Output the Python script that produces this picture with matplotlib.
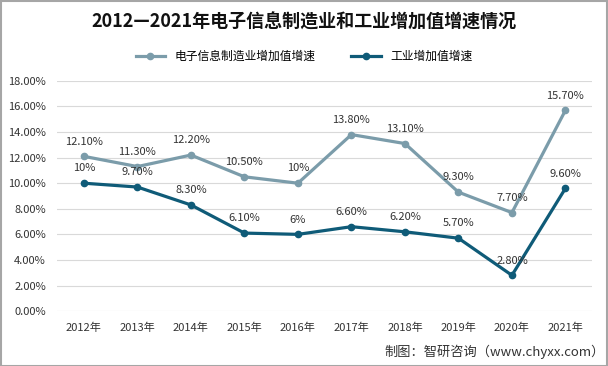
import numpy as np
import matplotlib
matplotlib.use("Agg")
import matplotlib.pyplot as plt
from matplotlib.patches import Rectangle

plt.rcParams['font.family'] = ['Noto Sans CJK SC', 'DejaVu Sans']

years = ["2012年", "2013年", "2014年", "2015年", "2016年",
         "2017年", "2018年", "2019年", "2020年", "2021年"]
elec = [12.1, 11.3, 12.2, 10.5, 10.0, 13.8, 13.1, 9.3, 7.7, 15.7]
elec_labels = ["12.10%", "11.30%", "12.20%", "10.50%", "10%",
               "13.80%", "13.10%", "9.30%", "7.70%", "15.70%"]
ind = [10.0, 9.7, 8.3, 6.1, 6.0, 6.6, 6.2, 5.7, 2.8, 9.6]
ind_labels = ["10%", "9.70%", "8.30%", "6.10%", "6%",
              "6.60%", "6.20%", "5.70%", "2.80%", "9.60%"]
yticks = np.arange(0, 19, 2)

c_light = "#7B9CAA"
c_dark = "#0F5B78"

fig = plt.figure(figsize=(6.08, 3.66), dpi=100)
ax = fig.add_axes([0.094, 0.150, 0.880, 0.629])

x = np.arange(len(years))
ax.plot(x, elec, color=c_light, lw=2.3, marker="o", ms=4.5, label="电子信息制造业增加值增速")
ax.plot(x, ind, color=c_dark, lw=2.3, marker="o", ms=4.5, label="工业增加值增速")

for xi, v, t in zip(x, elec, elec_labels):
    ax.annotate(t, (xi, v), xytext=(0, 7), textcoords="offset points",
                ha="center", va="bottom", fontsize=8, color="#333333")
for xi, v, t in zip(x, ind, ind_labels):
    ax.annotate(t, (xi, v), xytext=(0, 7), textcoords="offset points",
                ha="center", va="bottom", fontsize=8, color="#333333")

ax.set_xlim(-0.5, len(years) - 0.5)
ax.set_ylim(0, 18)
ax.set_yticks(yticks)
ax.set_yticklabels([f"{v:.2f}%" for v in yticks], fontsize=8, color="#333333")
ax.set_xticks(x)
ax.set_xticklabels(years, fontsize=8, color="#333333")
ax.tick_params(length=0, pad=8)
ax.grid(axis="y", color="#D9D9D9", lw=0.8)
ax.set_axisbelow(True)
for s in ax.spines.values():
    s.set_visible(False)

fig.text(0.5, 0.94, "2012—2021年电子信息制造业和工业增加值增速情况",
         ha="center", va="center", fontsize=13, fontweight="bold", color="#111111")
fig.legend(loc="center", bbox_to_anchor=(0.5, 0.845), ncol=2, frameon=False,
           fontsize=8.5, handlelength=2.5, columnspacing=3)
fig.text(0.995, 0.04, "制图：智研咨询（www.chyxx.com）", ha="right", va="center",
         fontsize=9.5, color="#333333")

fig.patches.append(Rectangle((0.001, 0.001), 0.997, 0.996, transform=fig.transFigure,
                             fill=False, edgecolor="#A6A6A6", lw=1.5))

fig.savefig("out.png", dpi=100)
